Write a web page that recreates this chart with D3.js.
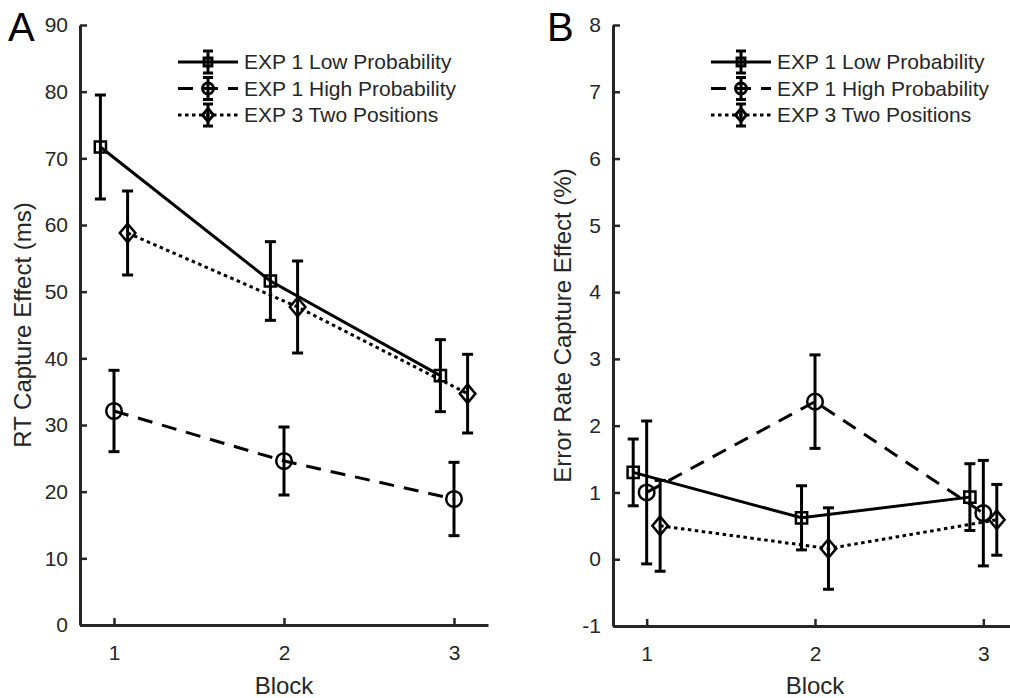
<!DOCTYPE html>
<html>
<head>
<meta charset="utf-8">
<script src="https://cdn.jsdelivr.net/npm/d3@7"></script>
<style>
  body { margin: 0; background: #fff; }
  svg text { font-family: 'Liberation Sans', Arial, Helvetica, sans-serif; }
</style>
</head>
<body>
<div id="chart"></div>
<script>
// values (mean and error half-width per block)
var blocks = [1, 2, 3];
var seriesNames = ['EXP 1 Low Probability', 'EXP 1 High Probability', 'EXP 3 Two Positions'];

var rtLow = [71.7, 51.6, 37.4];
var rtLowErr = [7.8, 5.9, 5.4];
var rtHigh = [32.1, 24.6, 18.9];
var rtHighErr = [6.1, 5.1, 5.5];
var rtTwo = [58.8, 47.7, 34.7];
var rtTwoErr = [6.3, 6.9, 5.9];

var errLow = [1.30, 0.62, 0.93];
var errLowErr = [0.50, 0.48, 0.50];
var errHigh = [1.00, 2.36, 0.69];
var errHighErr = [1.07, 0.70, 0.79];
var errTwo = [0.50, 0.16, 0.59];
var errTwoErr = [0.68, 0.61, 0.53];

var rtTicks = [0, 10, 20, 30, 40, 50, 60, 70, 80, 90];
var errTicks = [-1, 0, 1, 2, 3, 4, 5, 6, 7, 8];

var axisColor = '#262626';
var width = 1010, height = 698;

var svg = d3.select('#chart').append('svg')
  .attr('width', width)
  .attr('height', height);

// marker shapes, drawn unfilled like matlab
function markerPath(kind, s) {
  s = s || 1;
  if (kind == 'square') {
    var h = 5.6 * s;
    return 'M' + (-h) + ',' + (-h) + 'H' + h + 'V' + h + 'H' + (-h) + 'Z';
  }
  if (kind == 'circle') {
    var r = 7.8 * s;
    return 'M' + r + ',0A' + r + ',' + r + ' 0 1,1 ' + (-r) + ',0A' + r + ',' + r + ' 0 1,1 ' + r + ',0Z';
  }
  var w = 7.8 * s, hh = 9.3 * s;
  return 'M0,' + (-hh) + 'L' + w + ',0L0,' + hh + 'L' + (-w) + ',0Z';
}

var styles = [
  {marker: 'square', dash: null, offset: -0.08},
  {marker: 'circle', dash: '15,10', offset: 0},
  {marker: 'diamond', dash: '3.5,3.5', offset: 0.08}
];

// plain hyphen for negatives, as in the original
function plainNum(d) { return String(d); }

function drawPanel(opts) {
  var x = d3.scaleLinear().domain([0.8, 3.2]).range(opts.xRange);
  var y = d3.scaleLinear().domain(opts.yDomain).range([opts.yBottom, 25]);
  var g = svg.append('g');

  var xAxis = d3.axisBottom(x).tickValues(blocks).tickFormat(plainNum)
    .tickSizeInner(-7).tickSizeOuter(0).tickPadding(20);
  var yAxis = d3.axisLeft(y).tickValues(opts.ticks).tickFormat(plainNum)
    .tickSizeInner(-7).tickSizeOuter(0).tickPadding(12);

  var gx = g.append('g').attr('transform', 'translate(0,' + opts.yBottom + ')').call(xAxis);
  var gy = g.append('g').attr('transform', 'translate(' + opts.xRange[0] + ',0)').call(yAxis);
  [gx, gy].forEach(function(a) {
    a.select('.domain').attr('stroke', axisColor).attr('stroke-width', 3);
    a.selectAll('.tick line').attr('stroke', axisColor).attr('stroke-width', 2.5);
    a.selectAll('.tick text').attr('fill', axisColor).attr('font-size', 21);
  });

  // axis titles
  g.append('text')
    .attr('x', x(2)).attr('y', 694)
    .attr('text-anchor', 'middle').attr('font-size', 24).attr('fill', axisColor)
    .text('Block');
  g.append('text')
    .attr('transform', 'translate(' + opts.titleX + ',' + ((opts.yBottom + 25) / 2) + ') rotate(-90)')
    .attr('text-anchor', 'middle').attr('font-size', 24).attr('fill', axisColor)
    .text(opts.title);
  g.append('text')
    .attr('x', opts.labelX).attr('y', 41)
    .attr('font-size', 40).attr('fill', '#000')
    .text(opts.label);

  opts.series.forEach(function(s, k) {
    var st = styles[k];
    var pts = blocks.map(function(b, i) {
      return {x: b + st.offset, v: s.values[i], e: s.errors[i]};
    });
    var line = d3.line()
      .x(function(d) { return x(d.x); })
      .y(function(d) { return y(d.v); });
    g.append('path')
      .datum(pts)
      .attr('d', line)
      .attr('fill', 'none')
      .attr('stroke', '#000')
      .attr('stroke-width', 3)
      .attr('stroke-dasharray', st.dash);

    var eb = g.selectAll(null).data(pts).enter().append('g');
    eb.append('line')
      .attr('x1', function(d) { return x(d.x); })
      .attr('x2', function(d) { return x(d.x); })
      .attr('y1', function(d) { return y(d.v + d.e); })
      .attr('y2', function(d) { return y(d.v - d.e); })
      .attr('stroke', '#000').attr('stroke-width', 3);
    [1, -1].forEach(function(sign) {
      eb.append('line')
        .attr('x1', function(d) { return x(d.x) - 5.5; })
        .attr('x2', function(d) { return x(d.x) + 5.5; })
        .attr('y1', function(d) { return y(d.v + sign * d.e); })
        .attr('y2', function(d) { return y(d.v + sign * d.e); })
        .attr('stroke', '#000').attr('stroke-width', 3);
    });
    eb.append('path')
      .attr('d', markerPath(st.marker))
      .attr('transform', function(d) { return 'translate(' + x(d.x) + ',' + y(d.v) + ')'; })
      .attr('fill', 'none')
      .attr('stroke', '#000')
      .attr('stroke-width', 2.5);
  });

  // legend
  var lx = opts.xRange[0] + 98;
  seriesNames.forEach(function(name, k) {
    var st = styles[k];
    var ly = 62 + k * 26.5;
    var row = g.append('g').attr('transform', 'translate(' + lx + ',' + ly + ')');
    row.append('line').attr('x1', 0).attr('x2', 60).attr('y1', 0).attr('y2', 0)
      .attr('stroke', '#000').attr('stroke-width', 3)
      .attr('stroke-dasharray', st.dash);
    row.append('line').attr('x1', 30).attr('x2', 30).attr('y1', -11).attr('y2', 11)
      .attr('stroke', '#000').attr('stroke-width', 3);
    [-11, 11].forEach(function(yy) {
      row.append('line').attr('x1', 25).attr('x2', 35).attr('y1', yy).attr('y2', yy)
        .attr('stroke', '#000').attr('stroke-width', 3);
    });
    row.append('path').attr('d', markerPath(st.marker, 0.7))
      .attr('transform', 'translate(30,0)')
      .attr('fill', 'none').attr('stroke', '#000').attr('stroke-width', 3);
    row.append('text').attr('x', 66).attr('y', 0).attr('dy', '0.35em')
      .attr('font-size', 21).attr('fill', axisColor)
      .text(name);
  });
}

drawPanel({
  xRange: [80, 488], yDomain: [0, 90], yBottom: 625, ticks: rtTicks,
  title: 'RT Capture Effect (ms)', titleX: 31, label: 'A', labelX: 8,
  series: [
    {values: rtLow, errors: rtLowErr},
    {values: rtHigh, errors: rtHighErr},
    {values: rtTwo, errors: rtTwoErr}
  ]
});

drawPanel({
  xRange: [613, 1017], yDomain: [-1, 8], yBottom: 626, ticks: errTicks,
  title: 'Error Rate Capture Effect (%)', titleX: 571, label: 'B', labelX: 547,
  series: [
    {values: errLow, errors: errLowErr},
    {values: errHigh, errors: errHighErr},
    {values: errTwo, errors: errTwoErr}
  ]
});
</script>
</body>
</html>
